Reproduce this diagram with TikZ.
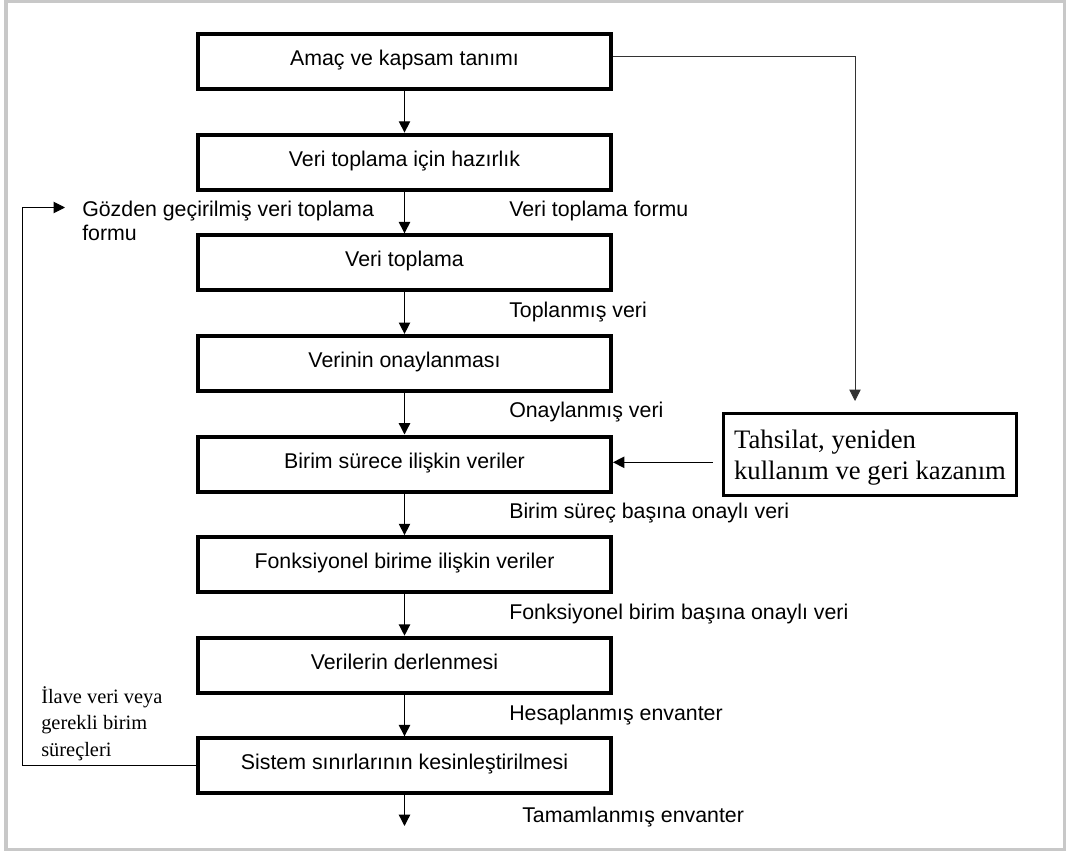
\documentclass[tikz,border=0pt]{standalone}
\usepackage{fontspec}
\setmainfont{Liberation Serif}
\setsansfont{Liberation Sans}
\usetikzlibrary{arrows.meta}

\definecolor{framegray}{RGB}{200,200,200}

\tikzset{
  stepbox/.style={draw, line width=3pt, minimum width=309.75pt, minimum height=41.25pt,
    inner sep=0pt, text height=12pt, text depth=6pt,
    font=\sffamily\fontsize{16}{18}\selectfont},
  lab/.style={anchor=base west, inner sep=0pt, font=\sffamily\fontsize{16}{18}\selectfont},
  flow/.style={line width=1pt, -{Triangle[length=8.5pt,width=8.5pt]}},
  loopline/.style={line width=0.75pt, -{Triangle[length=8.5pt,width=8.5pt]}},
  thinloop/.style={line width=0.6pt, draw=black!80, -{Triangle[length=8.5pt,width=8.5pt]}},
  sidebox/.style={draw, line width=2.5pt, minimum width=219.75pt, minimum height=61.5pt,
    inner xsep=5pt, align=left, text depth=0pt,
    font=\rmfamily\fontsize{20}{23.25}\selectfont},
}

\begin{document}
\begin{tikzpicture}[x=0.75pt, y=-0.75pt]
\useasboundingbox (0,0) rectangle (1067,852);

% outer frame
\draw[framegray, line width=2.5pt] (6,1.8) rectangle (1064.5,849.7);

% main sequence of steps
\node[stepbox] (b1) at (404.5,61.5)  {Amaç ve kapsam tanımı};
\node[stepbox] (b2) at (404.5,162.1) {Veri toplama için hazırlık};
\node[stepbox] (b3) at (404.5,262.8) {Veri toplama};
\node[stepbox] (b4) at (404.5,363.4) {Verinin onaylanması};
\node[stepbox] (b5) at (404.5,464)   {Birim sürece ilişkin veriler};
\node[stepbox] (b6) at (404.5,564.6) {Fonksiyonel birime ilişkin veriler};
\node[stepbox] (b7) at (404.5,665.2) {Verilerin derlenmesi};
\node[stepbox] (b8) at (404.5,765.8) {Sistem sınırlarının kesinleştirilmesi};

% side step
\node[sidebox] (T) at (870,454.5) {Tahsilat, yeniden\\kullanım ve geri kazanım};

% arrows between the steps
\draw[flow] (b1) -- (b2);
\draw[flow] (b2) -- (b3);
\draw[flow] (b3) -- (b4);
\draw[flow] (b4) -- (b5);
\draw[flow] (b5) -- (b6);
\draw[flow] (b6) -- (b7);
\draw[flow] (b7) -- (b8);
\coordinate (endtip) at (404.5,826);
\draw[flow] (b8) -- (endtip);

% outputs of the steps
\node[lab] (o2) at (509,216.5) {Veri toplama formu};
\node[lab] (o3) at (509,317)   {Toplanmış veri};
\node[lab] (o4) at (509,417.5) {Onaylanmış veri};
\node[lab] (o5) at (509,518)   {Birim süreç başına onaylı veri};
\node[lab] (o6) at (509,619)   {Fonksiyonel birim başına onaylı veri};
\node[lab] (o7) at (509,720.5) {Hesaplanmış envanter};
\node[lab] (o8) at (522,822)   {Tamamlanmış envanter};

% right loop to the side step and back into the unit processes
\coordinate (rtip) at (855,401);
\draw[thinloop] ([yshift=4.1pt]b1.east) -| (rtip);
\draw[flow, shorten <=6.75pt] (T.west |- 0,462.3) -- (b5.east |- 0,462.3);

% left feedback loop
\coordinate (lcorner) at (22.7,207.5);
\coordinate (ltip) at (65,207.5);
\draw[loopline] (b8.west) -| (lcorner) -- (ltip);
\node[lab] (fb) at (82,216.7)
  {\begin{tabular}[t]{@{}l@{}}Gözden geçirilmiş veri toplama\\formu\end{tabular}};
\node[anchor=base west, inner sep=0pt, font=\rmfamily\fontsize{15.3}{19.9}\selectfont] (add) at (41,703)
  {\begin{tabular}[t]{@{}l@{}}İlave veri veya\\gerekli birim\\süreçleri\end{tabular}};
\end{tikzpicture}
\end{document}
